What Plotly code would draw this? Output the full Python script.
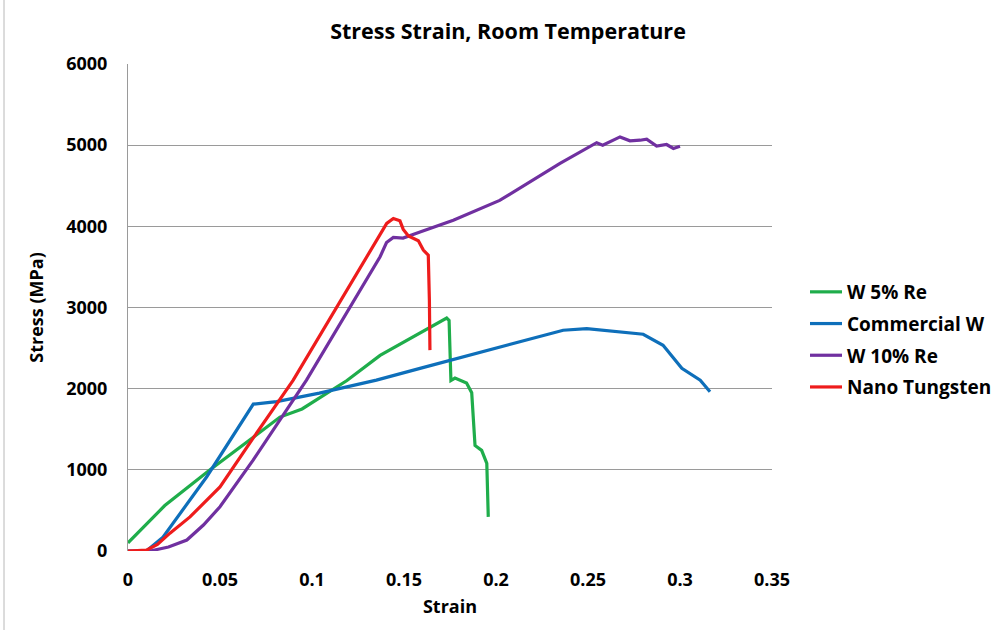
import plotly.graph_objects as go

# Stress-strain curves at room temperature (strain, stress in MPa)
w5re_strain = [0.0, 0.02, 0.0446, 0.068, 0.0826, 0.0946, 0.105, 0.119, 0.137, 0.164, 0.1732,
               0.1745, 0.1755, 0.1777, 0.184, 0.1868, 0.1886, 0.1922, 0.195, 0.1958]
w5re_stress = [100, 560, 1000, 1400, 1650, 1750, 1900, 2100, 2410, 2745, 2870,
               2840, 2100, 2130, 2070, 1950, 1300, 1240, 1080, 420]

commw_strain = [0.0, 0.01, 0.019, 0.0428, 0.0681, 0.0808, 0.104, 0.135, 0.1587, 0.2022, 0.2203,
                0.2365, 0.2493, 0.269, 0.28, 0.2908, 0.301, 0.311, 0.3163]
commw_stress = [0, 0, 170, 915, 1810, 1840, 1945, 2105, 2250, 2516, 2620,
                2720, 2740, 2695, 2670, 2535, 2250, 2105, 1962]

w10re_strain = [0.0, 0.012, 0.022, 0.032, 0.041, 0.05, 0.068, 0.0826, 0.097, 0.137, 0.1405, 0.1442,
                0.1495, 0.1587, 0.1768, 0.202, 0.2348, 0.2547, 0.258, 0.2674, 0.2728, 0.2783,
                0.2819, 0.2873, 0.2927, 0.2964, 0.3]
w10re_stress = [0, 0, 50, 135, 320, 545, 1120, 1613, 2105, 3625, 3800, 3863,
                3855, 3930, 4076, 4320, 4775, 5030, 5000, 5102, 5053, 5061,
                5074, 4988, 5008, 4959, 4988]

nano_strain = [0.0, 0.01, 0.016, 0.0228, 0.0337, 0.05, 0.068, 0.0898, 0.1406, 0.1442, 0.1478,
               0.1496, 0.1524, 0.1578, 0.1605, 0.1632, 0.1638, 0.1641]
nano_stress = [0, 10, 80, 220, 420, 790, 1390, 2105, 4036, 4097, 4068,
               3962, 3880, 3822, 3707, 3645, 3091, 2475]

series = [
    ("W 5% Re", w5re_strain, w5re_stress, "#1fad4b"),
    ("Commercial W", commw_strain, commw_stress, "#0e6fba"),
    ("W 10% Re", w10re_strain, w10re_stress, "#7030a0"),
    ("Nano Tungsten", nano_strain, nano_stress, "#ee1c1c"),
]

FONT = "Open Sans"

fig = go.Figure()
for name, xs, ys, color in series:
    fig.add_trace(go.Scatter(
        x=xs, y=ys, name="<b>" + name + "</b>", mode="lines",
        line=dict(color=color, width=3.2),
        legendgroup=name,
    ))

# Plot area geometry (pixels)
L, R, T, B = 128, 225, 64, 79
W, H = 997, 630
pw, ph = W - L - R, H - T - B

fig.update_layout(
    width=W, height=H,
    margin=dict(l=L, r=R, t=T, b=B, autoexpand=False),
    paper_bgcolor="white", plot_bgcolor="white",
    font=dict(family=FONT, color="#000000", size=18),
    title=dict(text="<b>Stress Strain, Room Temperature</b>", x=(508 - L) / pw, xref="paper",
               xanchor="center", y=1 - 31 / H, yanchor="middle",
               font=dict(size=21.5, family=FONT)),
    showlegend=True,
    legend=dict(x=(805 - L) / pw, y=(551 - 273) / ph, xanchor="left", yanchor="top",
                font=dict(size=19, family=FONT), tracegroupgap=4,
                bgcolor="rgba(0,0,0,0)", itemwidth=32),
    xaxis=dict(range=[0, 0.35], dtick=0.05, tick0=0, showgrid=False, zeroline=False,
               showline=False, ticks="", tickfont=dict(size=18, family=FONT),
               tickprefix="<b>", ticksuffix="</b>", ticklabelstandoff=16,
               title=dict(text="<b>Strain</b>", font=dict(size=18, family=FONT), standoff=10)),
    yaxis=dict(range=[0, 6000], dtick=1000, showgrid=True, gridcolor="#9a9a9a", gridwidth=1,
               zeroline=False, showline=True, linecolor="#9a9a9a", linewidth=1, ticks="",
               tickfont=dict(size=18, family=FONT), tickprefix="<b>", ticksuffix="</b>",
               ticklabelstandoff=16,
               title=dict(text="<b>Stress (MPa)</b>", font=dict(size=18, family=FONT), standoff=17)),
)

# Outer frame of the chart area
fig.add_shape(type="rect", xref="paper", yref="paper",
              x0=(4 - L) / pw, x1=(W + 5 - L) / pw,
              y0=-(B + 5) / ph, y1=(H - T - 1) / ph,
              line=dict(color="#b8b8b8", width=1), fillcolor="rgba(0,0,0,0)", layer="below")

fig.write_html("out.html")
